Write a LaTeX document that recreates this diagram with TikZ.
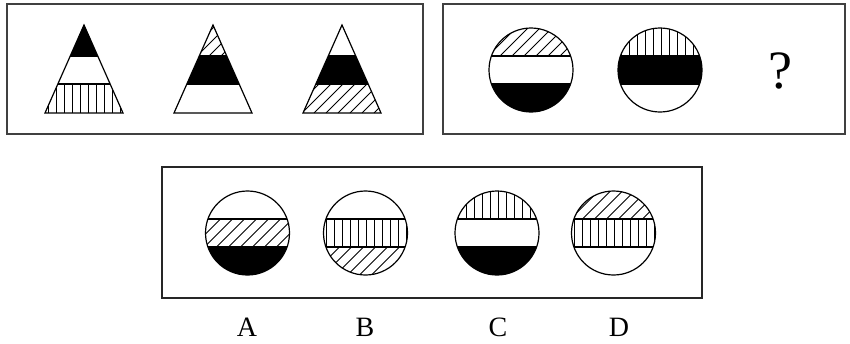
\documentclass[tikz,border=0pt]{standalone}
\usepackage{fontspec}
\setmainfont{Liberation Serif}
\usetikzlibrary{positioning}

% fillings of one band, given as x1, y1, x2, y2
\newcommand{\bandnone}[4]{}
\newcommand{\bandblack}[4]{\fill[black] (#1,#2) rectangle (#3,#4);}
\newcommand{\bandvert}[4]{%
  \begin{scope}
    \clip (#1,#2) rectangle (#3,#4);
    \foreach \i in {0,...,12}{%
      \pgfmathsetmacro\hx{#1+4+8*\i}
      \draw[hatch] (\hx,#2) -- (\hx,#4);}
  \end{scope}}
\newcommand{\banddiag}[4]{%
  \begin{scope}
    \clip (#1,#2) rectangle (#3,#4);
    \foreach \i in {-4,...,10}{%
      \pgfmathsetmacro\hx{#1+12*\i}
      \draw[hatch] (\hx,#4) -- ++(45,-45);}
  \end{scope}}

% triangle: apex x, top, middle, bottom band
\newcommand{\tri}[4]{%
  \begin{scope}
    \clip (#1,25) -- (#1-39,113) -- (#1+39,113) -- cycle;
    \csname band#2\endcsname{#1-40}{25}{#1+40}{56}%
    \csname band#3\endcsname{#1-40}{56}{#1+40}{84}%
    \csname band#4\endcsname{#1-40}{84}{#1+40}{113}%
    \draw[outline] (#1-40,56) -- (#1+40,56) (#1-40,84) -- (#1+40,84);
  \end{scope}
  \draw[outline] (#1,25) -- (#1-39,113) -- (#1+39,113) -- cycle;}

% disc: centre x, centre y, top, middle, bottom band
\newcommand{\disc}[5]{%
  \begin{scope}
    \clip (#1,#2) circle[radius=42];
    \csname band#3\endcsname{#1-43}{#2-43}{#1+43}{#2-14}%
    \csname band#4\endcsname{#1-43}{#2-14}{#1+43}{#2+14}%
    \csname band#5\endcsname{#1-43}{#2+14}{#1+43}{#2+43}%
    \draw[outline] (#1-43,#2-14) -- (#1+43,#2-14) (#1-43,#2+14) -- (#1+43,#2+14);
  \end{scope}
  \draw[outline] (#1,#2) circle[radius=42];}

\begin{document}
\begin{tikzpicture}[
  x=1pt, y=-1pt,
  panel/.style={draw=black!75, line width=1.5pt},
  outline/.style={draw=black, line width=1.2pt, line join=miter},
  hatch/.style={draw=black, line width=0.8pt},
  qmark/.style={font=\fontsize{54}{54}\selectfont, inner sep=0pt},
  letter/.style={font=\fontsize{28}{28}\selectfont, inner sep=0pt}
]
  \useasboundingbox (0,0) rectangle (850,343);
  % panels
  \draw[panel] (7,4) rectangle (423,134);
  \draw[panel] (443,4) rectangle (845,134);
  \draw[panel, line width=1.2pt, draw=black!85] (162,167) rectangle (702,298);
  % triangles
  \tri{84}{black}{none}{vert}
  \tri{213}{diag}{black}{none}
  \tri{342}{none}{black}{diag}
  % discs of the question
  \disc{531}{70}{diag}{none}{black}
  \disc{660}{70}{vert}{black}{none}
  \node[qmark] (q) at (780,71) {?};
  % answer discs
  \disc{247.5}{233}{none}{diag}{black}
  \disc{365.5}{233}{none}{vert}{diag}
  \disc{497}{233}{vert}{none}{black}
  \disc{613.5}{233}{diag}{vert}{none}
  \node[letter] (la) at (247,327) {A};
  \node[letter] (lb) at (365,327) {B};
  \node[letter] (lc) at (498,327) {C};
  \node[letter] (ld) at (619,327) {D};
\end{tikzpicture}
\end{document}
